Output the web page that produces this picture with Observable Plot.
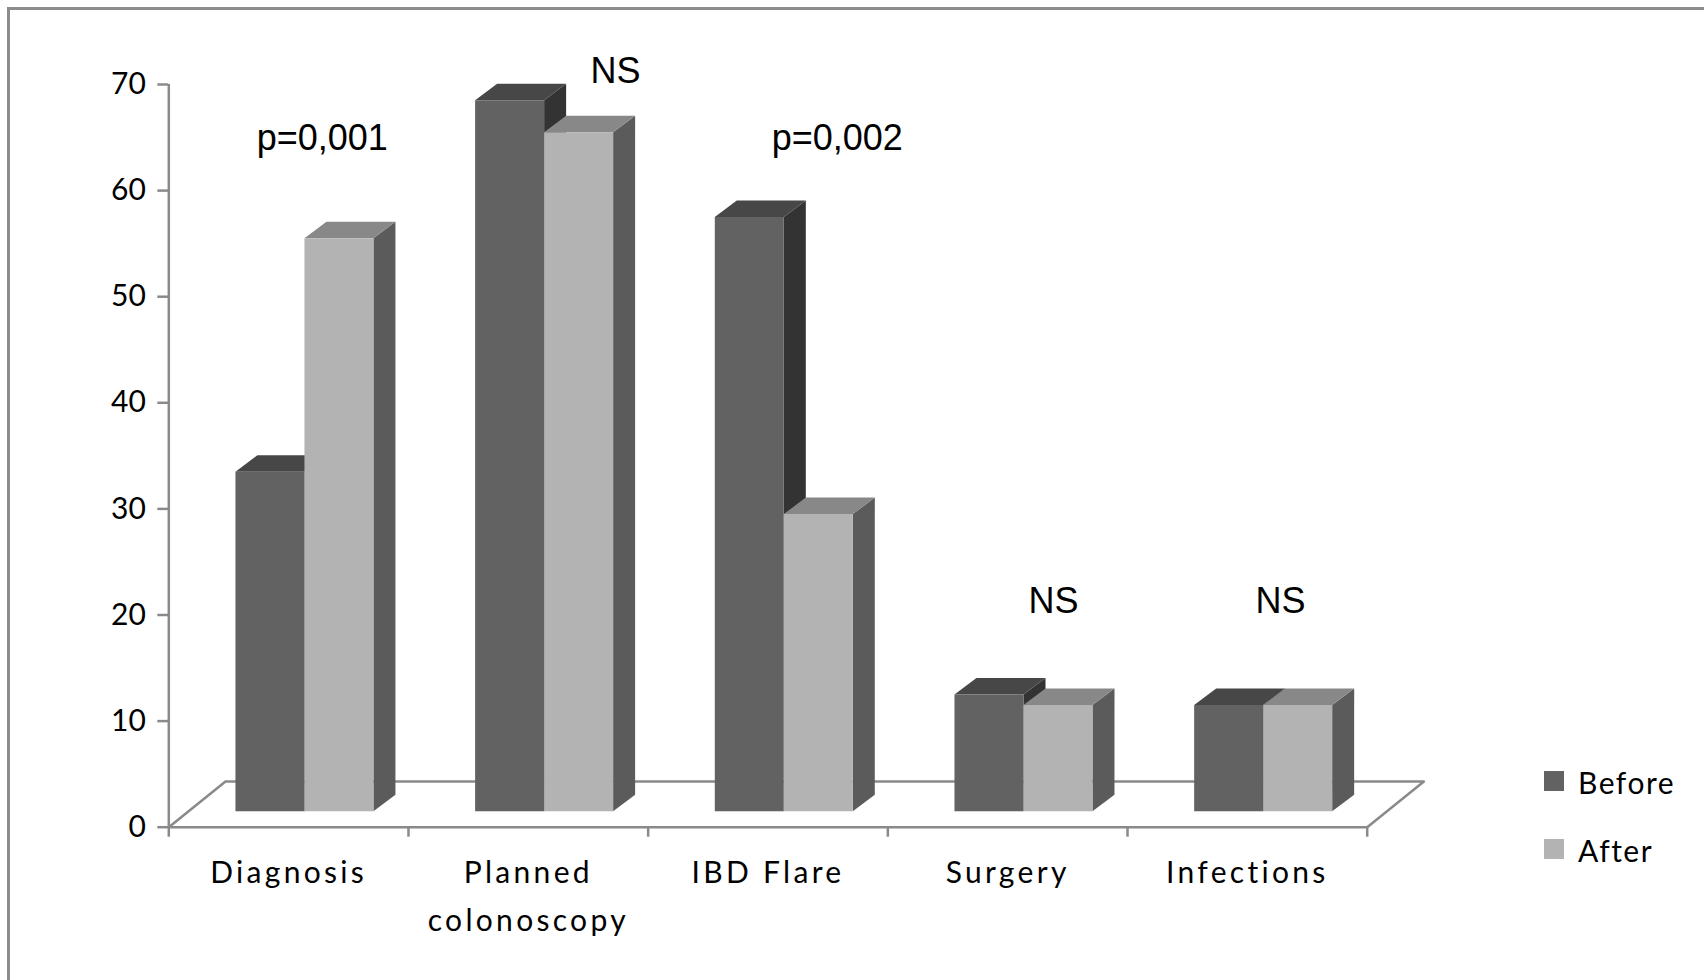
<!DOCTYPE html>
<html><head><meta charset="utf-8">
<script src="https://cdn.jsdelivr.net/npm/d3@7"></script>
<script src="https://cdn.jsdelivr.net/npm/@observablehq/plot@0.6"></script>
<style>
html,body{margin:0;padding:0;background:#fff;width:1704px;height:980px;overflow:hidden;}
#chart{position:absolute;left:0;top:0;}
#frame{position:absolute;left:7px;top:7px;width:1800px;height:1100px;border-left:3px solid #8c8c8c;border-top:3px solid #8c8c8c;pointer-events:none;}
.legitem{position:absolute;left:1544px;height:30px;font-family:Lato,sans-serif;font-size:30px;line-height:30px;color:#000;white-space:nowrap;letter-spacing:1.5px;}
.legitem .sw{position:absolute;left:0;top:4px;width:20px;height:20px;}
.legitem .lb{position:absolute;left:34px;top:0;}
</style></head><body>
<div id="chart"></div>
<div id="legend"></div>
<div id="frame"></div>
<script>
// ---- data ----
const categories = ["Diagnosis", "Planned\ncolonoscopy", "IBD Flare", "Surgery", "Infections"];
const seriesNames = ["Before", "After"];
const beforeValues = [32, 67, 56, 11, 10];
const afterValues = [54, 64, 28, 10, 10];
const yTicks = [0, 10, 20, 30, 40, 50, 60, 70];
const annTexts = ["p=0,001", "NS", "p=0,002", "NS", "NS"];
const annX = [0.64, 1.864, 2.789, 3.691, 4.638];   // category units
const annY = [63.8, 70.1, 63.8, 20.2, 20.2];        // value units

// ---- styling / geometry (pixels) ----
const W = 1704, H = 980;
const mL = 168.3, mR = 337.3, mT = 84, mB = 153.3;
const pxX = (W - mL - mR) / categories.length;
const pxY = (H - mT - mB) / 70;
const floorDepth = [56.7 / pxX, 45.7 / pxY];
const frontShift = [15.8 / pxX, 16 / pxY];
const barW = 69 / pxX;
const barDepth = [22 / pxX, 16.5 / pxY];
const faceColors = {
  Before: {front: "#626262", top: "#474747", side: "#333333"},
  After: {front: "#b3b3b3", top: "#888888", side: "#5b5b5b"}
};
const axisColor = "#8a8a8a";
const labelFirstDy = 56, labelLineStep = 47.3;

// ---- build polygons ----
const polys = [];
let pid = 0;
categories.forEach((c, i) => {
  seriesNames.forEach((s, si) => {
    const v = (si === 0 ? beforeValues : afterValues)[i];
    const xl = i + 0.5 + frontShift[0] + (si - 1) * barW;
    const xr = xl + barW;
    const yb = frontShift[1];
    const yt = yb + v;
    const [dx, dy] = barDepth;
    const col = faceColors[s];
    const faces = [
      ["side", [[xr, yb], [xr + dx, yb + dy], [xr + dx, yt + dy], [xr, yt]]],
      ["top", [[xl, yt], [xr, yt], [xr + dx, yt + dy], [xl + dx, yt + dy]]],
      ["front", [[xl, yb], [xr, yb], [xr, yt], [xl, yt]]]
    ];
    faces.forEach(([f, pts]) => {
      const id = pid++;
      pts.forEach(([x, y]) => polys.push({id, x, y, fill: col[f]}));
    });
  });
});

const floor = [[0, 0], [categories.length, 0],
  [categories.length + floorDepth[0], floorDepth[1]], [floorDepth[0], floorDepth[1]]]
  .map(([x, y]) => ({x, y}));

const labelRows = [];
categories.forEach((c, i) => c.split("\n").forEach((t, li) => labelRows.push({x: i + 0.5, t, li})));
const maxLines = d3.max(labelRows, d => d.li) + 1;

const anns = annTexts.map((t, i) => ({t, x: annX[i], y: annY[i]}));

const labelMarks = d3.range(maxLines).map(li =>
  Plot.text(labelRows.filter(d => d.li === li), {x: "x", y: 0, text: "t",
    dy: labelFirstDy + li * labelLineStep, lineAnchor: "bottom",
    fontSize: 30, fontFamily: "Lato, sans-serif", fill: "#000"}));

const chart = Plot.plot({
  width: W, height: H,
  marginLeft: mL, marginRight: mR, marginTop: mT, marginBottom: mB,
  style: {background: "transparent", overflow: "visible"},
  x: {domain: [0, categories.length], axis: null},
  y: {domain: [0, 70], axis: null},
  color: {type: "identity"},
  marks: [
    Plot.line(floor, {x: "x", y: "y", curve: "linear-closed", stroke: axisColor, strokeWidth: 2.5, fill: "none"}),
    Plot.ruleX([0], {y1: 0, y2: 70, stroke: axisColor, strokeWidth: 2.5}),
    Plot.axisY({ticks: yTicks, tickSize: 11, tickPadding: 12, stroke: axisColor, strokeWidth: 2.5,
      fill: "#000", fontSize: 30, fontFamily: "Lato, sans-serif", label: null}),
    Plot.axisX({ticks: d3.range(categories.length + 1), tickSize: 10, tickFormat: () => "",
      stroke: axisColor, strokeWidth: 2.5, label: null}),
    Plot.line(polys, {x: "x", y: "y", z: "id", fill: "fill", stroke: "none", curve: "linear-closed"}),
    ...labelMarks,
    Plot.text(anns, {x: "x", y: "y", text: "t", lineAnchor: "bottom", textAnchor: "middle",
      fontSize: 36, fontFamily: "Liberation Sans, Arial, sans-serif", fill: "#000"})
  ]
});
const labelSet = new Set(labelRows.map(d => d.t));
d3.select(chart).selectAll("text")
  .filter(function () { return labelSet.has(this.textContent); })
  .style("letter-spacing", "3.3px");
document.getElementById("chart").appendChild(chart);

// legend
const legend = document.getElementById("legend");
const legTops = [767, 835];
seriesNames.forEach((s, i) => {
  const item = document.createElement("div");
  item.className = "legitem";
  item.style.top = legTops[i] + "px";
  item.innerHTML = `<div class="sw" style="background:${faceColors[s].front}"></div><div class="lb">${s}</div>`;
  legend.appendChild(item);
});
</script>
</body></html>
